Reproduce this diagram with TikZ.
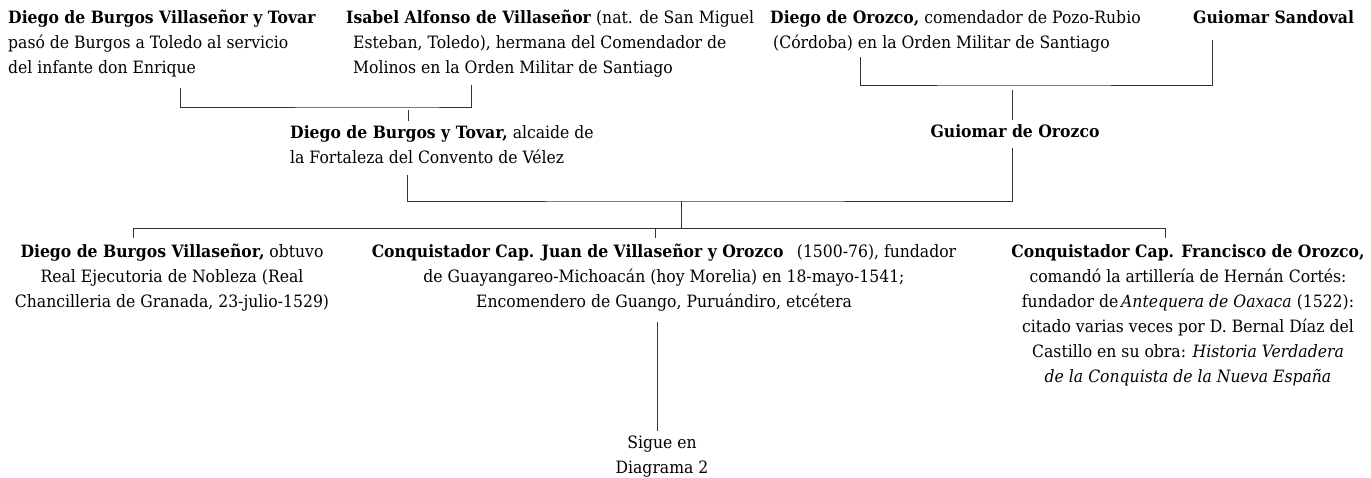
\documentclass[tikz,border=0pt]{standalone}
\usepackage{fontspec}
\setmainfont[FakeStretch=0.92]{DejaVu Serif}
\usepackage{tikz}
\begin{document}
\begin{tikzpicture}[x=1pt,y=-1pt,
  persona/.style={inner sep=0pt,font=\fontsize{17}{25}\selectfont},
  linea/.style={line width=0.9pt,color=black!80}]
\useasboundingbox (0,0) rectangle (1371,477);
\node[persona,anchor=north west,align=left] (pa) at (8,6)
  {\strut\textbf{Diego de Burgos Villaseñor y Tovar}\\pasó de Burgos a Toledo al servicio\\del infante don Enrique};
\node[persona,anchor=north west,align=left] (ma) at (346,6)
  {\strut\textbf{Isabel Alfonso de Villaseñor} (nat. de San Miguel\\\hspace*{7pt}Esteban, Toledo), hermana del Comendador de\\\hspace*{7pt}Molinos en la Orden Militar de Santiago};
\node[persona,anchor=north west,align=left] (pb) at (770,6)
  {\strut\textbf{Diego de Orozco,} comendador de Pozo-Rubio\\\hspace*{3pt}(Córdoba) en la Orden Militar de Santiago};
\node[persona,anchor=north west] (mb) at (1193,6) {\strut\textbf{Guiomar Sandoval}};
\node[persona,anchor=north west,align=left] (hc) at (290,121)
  {\strut\textbf{Diego de Burgos y Tovar,} alcaide de\\la Fortaleza del Convento de Vélez};
\node[persona,anchor=north] (hd) at (1015,120) {\strut\textbf{Guiomar de Orozco}};
\node[persona,anchor=north,align=center] (s1) at (172,240)
  {\strut\textbf{Diego de Burgos Villaseñor,} obtuvo\\Real Ejecutoria de Nobleza (Real\\Chancilleria de Granada, 23-julio-1529)};
\node[persona,anchor=north,align=center] (s2) at (664,240)
  {\strut\textbf{Conquistador Cap. Juan de Villaseñor y Orozco}\enspace\ (1500-76), fundador\\de Guayangareo-Michoacán (hoy Morelia) en 18-mayo-1541;\\Encomendero de Guango, Puruándiro, etcétera};
\node[persona,anchor=north,align=center] (s3) at (1188,240)
  {\strut\textbf{Conquistador Cap. Francisco de Orozco,}\\comandó la artillería de Hernán Cortés:\\fundador de\,\textit{Antequera de Oaxaca} (1522):\\citado varias veces por D. Bernal Díaz del\\Castillo en su obra: \textit{Historia Verdadera}\\\textit{de la Conquista de la Nueva España}};
\node[persona,anchor=north,align=center] (cont) at (662,431) {\strut Sigue en\\Diagrama 2};
\coordinate (pa-pie) at (180,88);
\coordinate (ma-pie) at (471,85);
\coordinate (j1) at (408,107);
\coordinate (pb-pie) at (860,57);
\coordinate (mb-pie) at (1212,40);
\coordinate (j2) at (1012,85);
\coordinate (hc-pie) at (407,175);
\coordinate (hd-pie) at (1012,148);
\coordinate (j3) at (681,201);
\coordinate (j4) at (681,228);
\coordinate (sigue) at (657,322);
\draw[linea] (pa-pie) |- (j1) -| (ma-pie);
\draw[linea] ([yshift=-3pt]j1) -- (j1 |- hc.north);
\draw[linea] (pb-pie) |- (j2) -| (mb-pie);
\draw[linea] ([yshift=-5pt]j2) -- (j2 |- hd.north);
\draw[linea] (hc-pie) |- (j3) -| (hd-pie);
\draw[linea] (j3) -- (j4);
\draw[linea] (j4 -| s1.north) ++(-39,0) -- (1165,228);
\foreach \x in {133,655,1165}
\draw[linea] (\x,228) -- (\x,238);
\draw[linea] (sigue) -- (sigue |- cont.north);
\end{tikzpicture}
\end{document}
